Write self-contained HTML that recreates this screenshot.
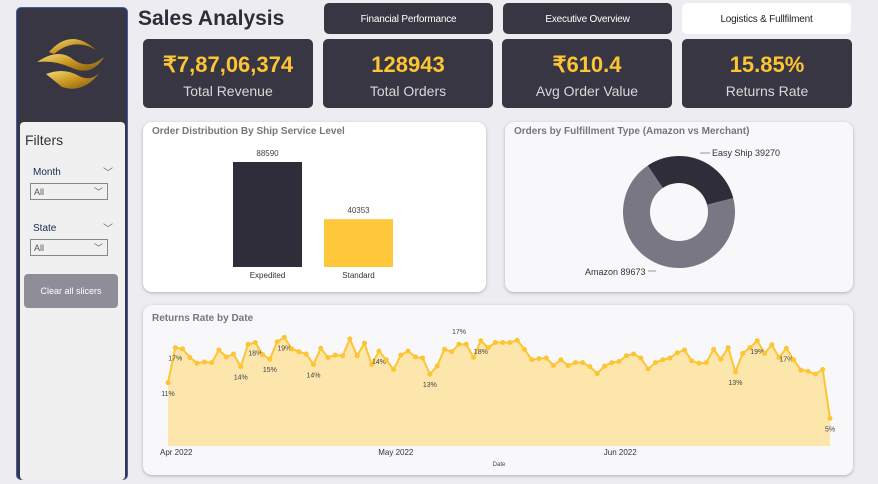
<!DOCTYPE html>
<html><head><meta charset="utf-8"><style>
body{margin:0;width:878px;height:484px;background:#ececf1;font-family:"Liberation Sans",sans-serif;position:relative;overflow:hidden}
.abs{position:absolute}
.kpi{position:absolute;top:39px;width:170px;height:69px;background:#383642;border-radius:5px;text-align:center;color:#fff}
.kpi .v{font-size:22px;font-weight:bold;color:#fdc533;margin-top:13px}
.kpi .l{font-size:14px;color:#d8d8dc;margin-top:5px}
.btn{position:absolute;top:3px;width:169px;height:31px;background:#383642;border-radius:5px;color:#fff;font-size:10px;text-align:center;line-height:33px;letter-spacing:-0.2px}
.card{position:absolute;background:#f8f8fb;border-radius:9px;box-shadow:0 1px 3px rgba(0,0,0,.25)}
.ct{position:absolute;left:9px;top:4px;font-size:10px;color:#777;font-weight:bold}
.sel{position:absolute;left:10px;width:78px;height:17px;border:1px solid #888;background:#f0f0f0;font-size:9px;color:#555;line-height:17px;padding-left:3px;box-sizing:border-box}
</style></head><body>
<div class="abs" style="left:16px;top:7px;width:112px;height:473px;background:#383642;border-radius:5px;border:1px solid #3a5ea8;box-sizing:border-box"></div>
<svg class="abs" style="left:34px;top:32px" width="74" height="60" viewBox="0 0 74 60">
<defs><linearGradient id="g" x1="0" y1="0" x2="1" y2="1"><stop offset="0" stop-color="#f5d97a"/><stop offset=".5" stop-color="#c9951f"/><stop offset="1" stop-color="#7a5510"/></linearGradient></defs>
<path d="M15 20 Q37 -5 62 18 Q40 5 20 22Z" fill="url(#g)"/>
<path d="M3 30 Q25 15 40 28 Q55 38 70 25 Q58 45 38 36 Q22 28 3 30Z" fill="url(#g)"/>
<path d="M12 42 Q30 35 45 44 Q58 50 66 40 Q50 62 28 55Z" fill="url(#g)"/>
</svg>
<div class="abs" style="left:20px;top:122px;width:105px;height:358px;background:#f0f0f0;border-radius:4px">
<div class="abs" style="left:5px;top:10px;font-size:14px;color:#333">Filters</div>
<div class="abs" style="left:13px;top:45px;font-size:10px;color:#1a2a50">Month</div>
<div class="abs" style="left:83px;top:42px;font-size:10px;color:#666">﹀</div>
<div class="sel" style="top:61px">All<span style="position:absolute;right:4px;color:#666">﹀</span></div>
<div class="abs" style="left:13px;top:101px;font-size:10px;color:#1a2a50">State</div>
<div class="abs" style="left:83px;top:98px;font-size:10px;color:#666">﹀</div>
<div class="sel" style="top:117px">All<span style="position:absolute;right:4px;color:#666">﹀</span></div>
<div class="abs" style="left:4px;top:152px;width:94px;height:34px;background:#8f8d98;border-radius:4px;color:#fff;font-size:9px;text-align:center;line-height:34px">Clear all slicers</div>
</div>
<div class="abs" style="left:138px;top:7px;font-size:21px;font-weight:bold;color:#2f2d38">Sales Analysis</div>
<div class="btn" style="left:324px">Financial Performance</div>
<div class="btn" style="left:503px">Executive Overview</div>
<div class="btn" style="left:682px;background:#fff;color:#222">Logistics &amp; Fullfilment</div>
<div class="kpi" style="left:143px"><div class="v">₹7,87,06,374</div><div class="l">Total Revenue</div></div>
<div class="kpi" style="left:323px"><div class="v">128943</div><div class="l">Total Orders</div></div>
<div class="kpi" style="left:502px"><div class="v">₹610.4</div><div class="l">Avg Order Value</div></div>
<div class="kpi" style="left:682px"><div class="v">15.85%</div><div class="l">Returns Rate</div></div>

<div class="card" style="left:143px;top:122px;width:343px;height:170px;background:#fff"><div class="ct">Order Distribution By Ship Service Level</div></div>
<svg class="abs" id="bar" style="left:0;top:0" width="878" height="484"></svg>
<div class="card" style="left:505px;top:122px;width:348px;height:170px"><div class="ct">Orders by Fulfillment Type (Amazon vs Merchant)</div></div>
<svg class="abs" id="donut" style="left:0;top:0" width="878" height="484"></svg>
<div class="card" style="left:143px;top:305px;width:710px;height:170px"><div class="ct" style="top:8px">Returns Rate by Date</div></div>
<svg class="abs" id="line" style="left:0;top:0" width="878" height="484"></svg>
<script>
const NS='http://www.w3.org/2000/svg';
function mk(p,t,a){const e=document.createElementNS(NS,t);for(const k in a)e.setAttribute(k,a[k]);p.appendChild(e);return e;}
// bar
const barCats=['Expedited','Standard'];
const barVals=[88590,40353];
const barColors=['#2f2d3a','#fec83a'];
const bs=document.getElementById('bar');
const by=v=>267-v/88590*105;
barCats.forEach((c,i)=>{const x=233+i*91;
const r=mk(bs,'rect',{x:x,y:by(barVals[i]),width:69,height:267-by(barVals[i]),fill:barColors[i]});


const t=mk(bs,'text',{x:x+34.5,y:by(barVals[i])-6,'font-size':8,'text-anchor':'middle',fill:'#444'});t.textContent=barVals[i];


const l=mk(bs,'text',{x:x+34.5,y:278,'font-size':8,'text-anchor':'middle',fill:'#333'});l.textContent=c;

});
// donut
const donutCats=['Easy Ship','Amazon'];
const donutVals=[39270,89673];
const donutColors=['#2f2d3a','#7a7784'];
const ds=document.getElementById('donut');
const cx=679,cy=212,R=56,r0=29;let a=-34*Math.PI/180;const tot=donutVals.reduce((s,v)=>s+v,0);
donutVals.forEach((v,i)=>{const a2=a+v/tot*2*Math.PI;const lg=(a2-a)>Math.PI?1:0;
const P=(rr,an)=>[cx+rr*Math.sin(an),cy-rr*Math.cos(an)];
const [x1,y1]=P(R,a),[x2,y2]=P(R,a2),[x3,y3]=P(r0,a2),[x4,y4]=P(r0,a);
const p=mk(ds,'path',{d:`M${x1} ${y1}A${R} ${R} 0 ${lg} 1 ${x2} ${y2}L${x3} ${y3}A${r0} ${r0} 0 ${lg} 0 ${x4} ${y4}Z`,fill:donutColors[i]});

a=a2;});
const l1=mk(ds,'text',{x:712,y:156,'font-size':9,fill:'#333'});l1.textContent=donutCats[0]+' '+donutVals[0];


mk(ds,'path',{d:'M700 153h10',stroke:'#999',fill:'none'});
const l2=mk(ds,'text',{x:585,y:275,'font-size':9,fill:'#333'});l2.textContent=donutCats[1]+' '+donutVals[1];


mk(ds,'path',{d:'M648 271h8',stroke:'#999',fill:'none'});
// line
const lineVals=[11.0,17.1,16.9,15.4,14.4,14.6,14.5,16.7,15.5,16.0,13.8,17.7,18.0,15.9,15.1,18.1,18.9,16.9,16.4,16.0,14.2,17.0,15.4,15.8,15.7,18.6,15.7,17.9,14.2,16.5,15.0,13.3,15.8,16.5,15.5,15.3,12.5,13.9,16.8,16.4,17.7,17.7,15.4,18.3,17.1,18.0,18.0,18.0,18.4,16.8,15.0,15.2,15.3,14.0,15.0,14.0,14.5,14.5,13.8,12.6,13.9,14.5,14.7,15.7,16.0,15.3,13.4,14.5,15.0,15.3,16.2,16.7,14.8,14.4,14.5,16.8,15.1,17.1,12.9,16.1,17.1,18.3,16.1,17.6,15.4,17.0,15.0,13.2,13.0,12.5,13.3,4.8];
const lineLabels={0:'11%',1:'17%',10:'14%',12:'18%',14:'15%',16:'19%',20:'14%',29:'14%',36:'13%',40:'17%',43:'18%',78:'13%',81:'19%',85:'17%',91:'5%'};
const monthTicks=['Apr 2022','May 2022','Jun 2022'];
const monthIdx=[0,30,61];
const ls=document.getElementById('line');
const X0=168,X1=830,Y0=446,SY=5.75;
const lx=i=>X0+i*(X1-X0)/(lineVals.length-1);
const ly=v=>Y0-v*SY;
let d='';lineVals.forEach((v,i)=>{d+=(i?'L':'M')+lx(i)+' '+ly(v);});
const ar=mk(ls,'path',{d:d+`L${lx(lineVals.length-1)} ${Y0}L${X0} ${Y0}Z`,fill:'#fde6ac'});


const ln=mk(ls,'path',{d:d,fill:'none',stroke:'#fdc533','stroke-width':2});


lineVals.forEach((v,i)=>{const c=mk(ls,'circle',{cx:lx(i),cy:ly(v),r:2.5,fill:'#fdc533'});


if(lineLabels[i]){const up=(i===40);const t=mk(ls,'text',{x:lx(i),y:up?ly(v)-10:ly(v)+13,'font-size':7,'text-anchor':'middle',fill:'#444'});t.textContent=lineLabels[i];

}});
monthTicks.forEach((m,k)=>{const t=mk(ls,'text',{x:lx(monthIdx[k])-8,y:455,'font-size':8,fill:'#333'});t.textContent=m;

});
const xt=mk(ls,'text',{x:499,y:466,'font-size':6,'text-anchor':'middle',fill:'#444'});xt.textContent='Date';


</script>
</body></html>
